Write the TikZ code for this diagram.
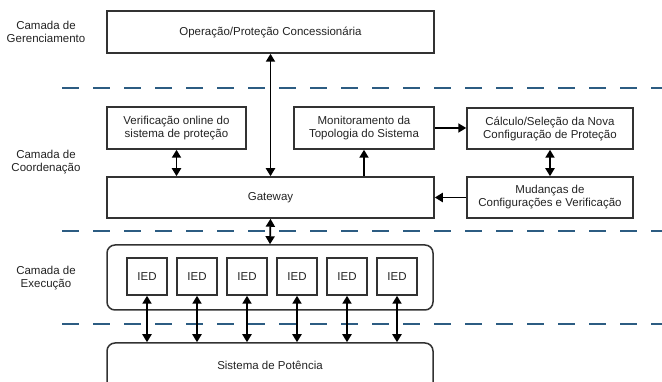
\documentclass[tikz,border=0pt]{standalone}
\usepackage{fontspec}
\setmainfont{Liberation Sans}
\usetikzlibrary{arrows.meta}
\definecolor{layerline}{RGB}{44,92,130}
\definecolor{boxline}{RGB}{50,50,50}
\definecolor{txt}{RGB}{35,35,35}
\tikzset{
  box/.style={draw=boxline, line width=1.5pt, rectangle, inner sep=2pt,
    align=center, text=txt},
  roundbox/.style={box, rounded corners=8pt},
  layer/.style={draw=layerline, line width=2.4pt, dash pattern=on 17pt off 14pt},
  layerlabel/.style={align=center, text=txt},
  arr/.style={-{Triangle[length=8pt,width=9pt]}, line width=1.8pt, black},
  biarr/.style={{Triangle[length=8pt,width=9pt]}-{Triangle[length=8pt,width=9pt]},
    line width=1.8pt, black},
}
\begin{document}
\begin{tikzpicture}[x=1pt, y=-1pt, font=\fontsize{11.5}{13}\selectfont]
\useasboundingbox (0,0) rectangle (662,382);

% layer separators
\draw[layer] (62,88) -- (662,88);
\draw[layer] (62,231) -- (662,231);
\draw[layer] (62,324) -- (662,324);

% layer names
\node[layerlabel] (lman) at (46,32) {Camada de\\Gerenciamento};
\node[layerlabel] (lcoord) at (46,162.5) {Camada de\\Coordenação};
\node[layerlabel] (lexec) at (46,278) {Camada de\\Execução};

% management layer
\node[box, minimum width=327pt, minimum height=42pt] (top) at (270.5,32)
  {Operação/Proteção Concessionária};

% coordination layer
\node[box, minimum width=139pt, minimum height=42pt] (verif) at (176.5,128)
  {Verificação online do\\sistema de proteção};
\node[box, minimum width=140pt, minimum height=42pt] (monit) at (364,128)
  {Monitoramento da\\Topologia do Sistema};
\node[box, minimum width=166pt, minimum height=41pt] (calc) at (550,128.5)
  {Cálculo/Seleção da Nova\\Configuração de Proteção};
\node[box, minimum width=166pt, minimum height=41pt] (mud) at (550,197.5)
  {Mudanças de\\Configurações e Verificação};
\node[box, minimum width=327pt, minimum height=41pt] (gw) at (270.5,197.5)
  {Gateway};

% execution layer
\node[roundbox, minimum width=326pt, minimum height=65pt] (exec) at (270,277.5) {};
\foreach \i in {0,...,5}
  \node[box, minimum width=40pt, minimum height=37pt] (ied\i) at (147+50*\i,276.5) {IED};

% power system
\node[roundbox, minimum width=326pt, minimum height=57pt] (power) at (270,371.5) {};
\node[text=txt] (powerlabel) at (270,365) {Sistema de Potência};

% connections
\draw[biarr] (top.south) -- (gw.north);
\draw[biarr] (gw.south) -- (exec.north);
\draw[biarr] (verif.south) -- (verif.south |- gw.north);
\draw[arr] (monit.south |- gw.north) -- (monit.south);
\draw[arr] (monit.east) -- (calc.west |- monit.east);
\draw[biarr] (calc.south) -- (mud.north);
\draw[arr] (mud.west) -- (gw.east |- mud.west);
\foreach \i in {0,...,5}
  \draw[biarr] (ied\i.south) -- (ied\i.south |- power.north);
\end{tikzpicture}
\end{document}
